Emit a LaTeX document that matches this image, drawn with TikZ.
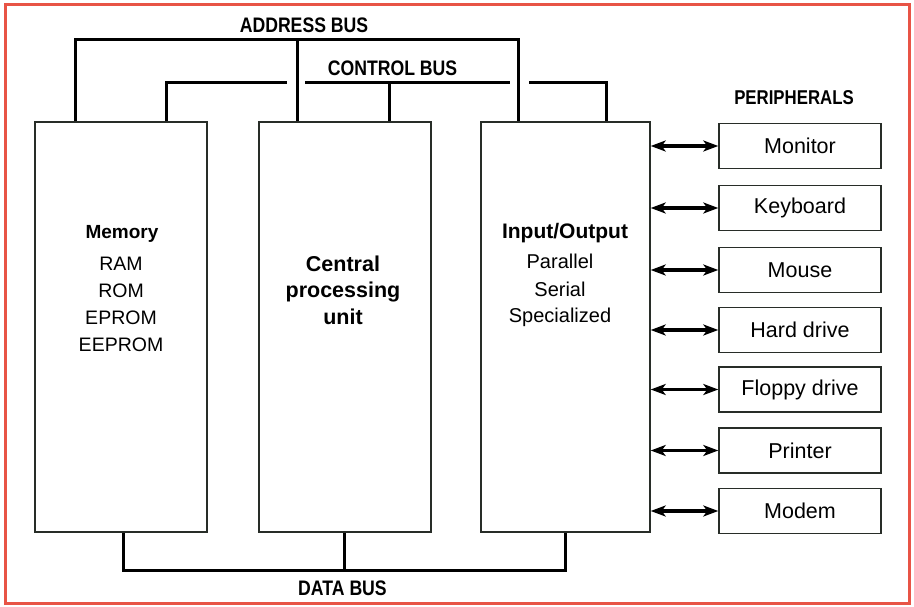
\documentclass[tikz,border=0pt]{standalone}
\usepackage{fontspec}
\setmainfont{Liberation Sans}
\newfontfamily\condfont[FakeStretch=0.84]{Liberation Sans}
\usetikzlibrary{arrows.meta}
\definecolor{framered}{RGB}{232,84,70}
\definecolor{boxline}{RGB}{40,45,40}
\begin{document}
\begin{tikzpicture}[x=1pt,y=-1pt,
  unitbox/.style={draw=boxline,line width=1.4pt,fill=white,minimum width=172pt,minimum height=410pt,inner sep=0pt},
  perbox/.style={draw=boxline,line width=1.4pt,fill=white,minimum width=162pt,minimum height=45pt,inner sep=0pt,font=\fontsize{21.5}{24}\selectfont},
  bus/.style={line width=3pt,black},
  dbl/.style={line width=3.5pt,black,{Stealth[length=15pt,width=11pt,inset=4pt]}-{Stealth[length=15pt,width=11pt,inset=4pt]}},
  buslabel/.style={anchor=base,inner sep=0pt,font=\condfont\bfseries\fontsize{21}{24}\selectfont},
  head/.style={anchor=base,inner sep=0pt,font=\bfseries\fontsize{20}{24}\selectfont},
  cpuhead/.style={anchor=base,inner sep=0pt,font=\bfseries\fontsize{21.5}{26}\selectfont},
  item/.style={anchor=base,inner sep=0pt,font=\fontsize{20}{24}\selectfont}]
\useasboundingbox (0,0) rectangle (914,607);
\fill[white] (0,0) rectangle (914,607);
\draw[framered,line width=3pt] (5,5) rectangle (909,603);

% main units
\node[unitbox] (mem) at (121,327) {};
\node[unitbox] (cpu) at (345,327) {};
\node[unitbox,minimum width=169pt] (io) at (565.5,327) {};

% memory text
\node[head,font=\bfseries\fontsize{19}{24}\selectfont] (memt) at (122,239) {Memory};
\node[item,font=\fontsize{19.5}{24}\selectfont] (ram) at (121,270) {RAM};
\node[item,font=\fontsize{19.5}{24}\selectfont] (rom) at (121,297) {ROM};
\node[item,font=\fontsize{19.5}{24}\selectfont] (eprom) at (121,324) {EPROM};
\node[item,font=\fontsize{19.5}{24}\selectfont] (eeprom) at (121,351) {EEPROM};

% cpu text
\node[cpuhead] (cpu1) at (343,272) {Central};
\node[cpuhead] (cpu2) at (343,298) {processing};
\node[cpuhead] (cpu3) at (343,324) {unit};

% io text
\node[head,font=\bfseries\fontsize{21}{24}\selectfont] (iot) at (565,239) {Input/Output};
\node[item] (par) at (560,269) {Parallel};
\node[item] (ser) at (560,296) {Serial};
\node[item] (spe) at (560,322) {Specialized};

% bus labels
\node[buslabel] (addr) at (304,33) {ADDRESS BUS};
\node[buslabel] (ctrl) at (392.5,76) {CONTROL BUS};
\node[buslabel,font=\condfont\bfseries\fontsize{20}{24}\selectfont] (peri) at (794,105) {PERIPHERALS};
\node[buslabel] (data) at (342.5,595) {DATA BUS};

% address bus
\coordinate (aL) at (75,40);
\coordinate (aM) at (297,40);
\coordinate (aR) at (518,40);
\draw[bus] (mem.north -| aL) -- (aL) -- (aR) -- (io.north -| aR);
\draw[bus] (cpu.north -| aM) -- (aM);

% control bus
\coordinate (cL) at (166,83);
\coordinate (cg1) at (287,83);
\coordinate (cg2) at (305,83);
\coordinate (cM) at (389,83);
\coordinate (cg3) at (510,83);
\coordinate (cg4) at (529,83);
\coordinate (cR) at (606,83);
\draw[bus] (mem.north -| cL) -- (cL) -- (cg1);
\draw[bus] (cg2) -- (cg3);
\draw[bus] (cpu.north -| cM) -- (cM);
\draw[bus] (cg4) -- (cR) -- (io.north -| cR);

% data bus
\coordinate (dL) at (123,570);
\coordinate (dM) at (344,570);
\coordinate (dR) at (565,570);
\draw[bus] (mem.south -| dL) -- (dL) -- (dR) -- (io.south -| dR);
\draw[bus] (cpu.south -| dM) -- (dM);

% peripherals
\node[perbox] (mon) at (800,146) {Monitor};
\node[perbox] (key) at (800,208) {Keyboard};
\node[perbox] (mou) at (800,270) {Mouse};
\node[perbox] (hdd) at (800,330) {Hard drive};
\node[perbox] (fdd) at (800,389.5) {Floppy drive};
\node[perbox] (prn) at (800,450.5) {Printer};
\node[perbox] (mdm) at (800,511) {Modem};

\foreach \p in {mon,key,mou,hdd,fdd,prn,mdm}
  \draw[dbl] (io.east |- \p.west) -- (\p.west);
\end{tikzpicture}
\end{document}
